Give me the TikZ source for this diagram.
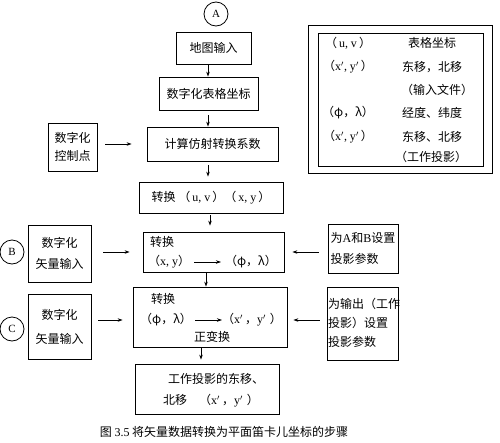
\documentclass[tikz,border=0pt]{standalone}
\usepackage{fontspec}
\setmainfont{Liberation Serif}
\newfontfamily\cjk{Noto Sans CJK SC}
\usetikzlibrary{arrows.meta}
\newcommand\ltn[1]{{\rmfamily #1}}
\newcommand\fwp[1]{（\ltn{#1}）}
\begin{document}
\begin{tikzpicture}[x=1pt,y=-1pt,
  box/.style={draw, line width=0.8pt, inner sep=0pt, align=center, font=\cjk\fontsize{12}{18}\selectfont},
  txt/.style={inner sep=0pt, font=\cjk\fontsize{12}{18}\selectfont},
  arr/.style={line width=0.7pt, -{Stealth[length=5pt,width=3.5pt]}},
  circ/.style={draw, circle, line width=0.8pt, minimum size=24pt, inner sep=0pt, font=\rmfamily\fontsize{11}{12}\selectfont}]
\useasboundingbox (0,0) rectangle (500,442);

% circles
\node[circ] (A) at (216,14) {A};
\node[circ] (B) at (12,252) {B};
\node[circ] (C) at (12,329) {C};

% main column
\node[box, minimum width=75, minimum height=32] (map) at (213.5,48) {地图输入};
\node[box, minimum width=99, minimum height=33] (digitab) at (208.5,93.5) {数字化表格坐标};
\node[box, minimum width=131, minimum height=34] (affine) at (212.5,144) {计算仿射转换系数};
\node[box, minimum width=49, minimum height=48] (ctrl) at (72.5,147) {数字化\\控制点};
\node[box, minimum width=144, minimum height=31] (conv1) at (211,197.5) {转换 \fwp{\,u, v\,}\fwp{\,x, y\,}};

\node[box, minimum width=141, minimum height=40] (conv2) at (213.5,252) {};
\node[txt, anchor=west] (c2t) at (150,242) {转换};
\node[txt, anchor=west] (xy1) at (148,262) {\fwp{x, y}};
\node[txt, anchor=east] (phl1) at (277,262) {（φ，λ）};
\coordinate (a1s) at (194,262);
\coordinate (a1e) at (221,262);
\draw[arr] (a1s) -- (a1e);

\node[box, minimum width=63, minimum height=57] (vecB) at (59.5,253.5) {数字化\\[3pt]矢量输入};
\node[box, minimum width=70, minimum height=49, align=left] (paramAB) at (363,248.5) {为\ltn{A}和\ltn{B}设置\\[3pt]投影参数};

\node[box, minimum width=154, minimum height=60] (conv3) at (210,317) {};
\node[txt, anchor=west] (c3t) at (151,299) {转换};
\node[txt, anchor=west] (phl2) at (140,320) {（φ，λ）};
\node[txt, anchor=west] (xy2) at (222,320) {（\ltn{x$'$\,}，\ltn{y$'$\,}\,）};
\node[txt] (c3b) at (212,337) {正变换};
\coordinate (a2s) at (195,320);
\coordinate (a2e) at (222,320);
\draw[arr] (a2s) -- (a2e);

\node[box, minimum width=63, minimum height=65] (vecC) at (59.5,326.5) {数字化\\[6pt]矢量输入};
\node[box, minimum width=71, minimum height=73] (paramOut) at (362.5,323.5) {};
\node[txt, anchor=west, align=left] (pOt) at (328,322.5) {为输出（工作\\[1pt]投影）设置\\[1pt]投影参数};

\node[box, minimum width=144, minimum height=50] (final) at (207,389) {};
\node[txt, anchor=west] (f1) at (168,379) {工作投影的东移、};
\node[txt, anchor=west] (f2) at (163,401) {北移\quad（\ltn{x$'$\,}，\ltn{y$'$\,}\,）};

% legend
\node[draw, line width=0.8pt, minimum width=184, minimum height=148, inner sep=0pt] (legO) at (400,99) {};
\node[draw, line width=0.8pt, minimum width=165, minimum height=133, inner sep=0pt] (legI) at (400.5,99.5) {};
\node[txt] (l1) at (348,43) {\fwp{\,u, v\,}};
\node[txt] (l2) at (348,67) {\fwp{x$'$, y$'$\,}};
\node[txt] (l3) at (348,113) {（φ，λ）};
\node[txt] (l4) at (348,137) {\fwp{x$'$, y$'$\,}};
\node[txt] (r1) at (432,43) {表格坐标};
\node[txt] (r2) at (432,67) {东移，北移};
\node[txt] (r3) at (437,90) {（输入文件）};
\node[txt] (r4) at (432,113) {经度、纬度};
\node[txt] (r5) at (432,137) {东移、北移};
\node[txt] (r6) at (431,157) {（工作投影）};

% caption
\node[txt, font=\cjk\fontsize{12}{14}\selectfont] (cap) at (224,432) {图 \ltn{3.5} 将矢量数据转换为平面笛卡儿坐标的步骤};

% vertical arrows
\draw[arr] ([xshift=-5.5pt]map.south) -- ([xshift=-5.5pt]map.south |- digitab.north);
\draw[arr, shorten <=5pt] ([xshift=-0.5pt]digitab.south) -- ([xshift=-0.5pt]digitab.south |- affine.north);
\draw[arr, shorten <=4pt, shorten >=5pt] ([xshift=-4.5pt]affine.south) -- ([xshift=-4.5pt]affine.south |- conv1.north);
\draw[arr, shorten <=2pt, shorten >=6pt] ([xshift=-1pt]conv1.south) -- ([xshift=-1pt]conv1.south |- conv2.north);
\draw[arr] ([xshift=-7.5pt]conv2.south) -- ([xshift=-7.5pt]conv2.south |- conv3.north);
\draw[arr, shorten >=4pt] ([xshift=-9pt]conv3.south) -- ([xshift=-9pt]conv3.south |- final.north);

% horizontal arrows
\draw[arr, shorten <=8pt, shorten >=15pt] (ctrl.east |- affine.west) -- (affine.west);
\draw[arr, shorten <=12pt, shorten >=13pt] (vecB.east |- conv2.west) -- (conv2.west);
\draw[arr, shorten <=9pt, shorten >=8pt] (paramAB.west |- conv2.east) -- (conv2.east);
\draw[arr, shorten <=7pt, shorten >=10pt] (vecC.east |- phl2) -- (conv3.west |- phl2);
\draw[arr, shorten <=7pt, shorten >=6pt] (paramOut.west |- xy2) -- (conv3.east |- xy2);
\end{tikzpicture}
\end{document}
